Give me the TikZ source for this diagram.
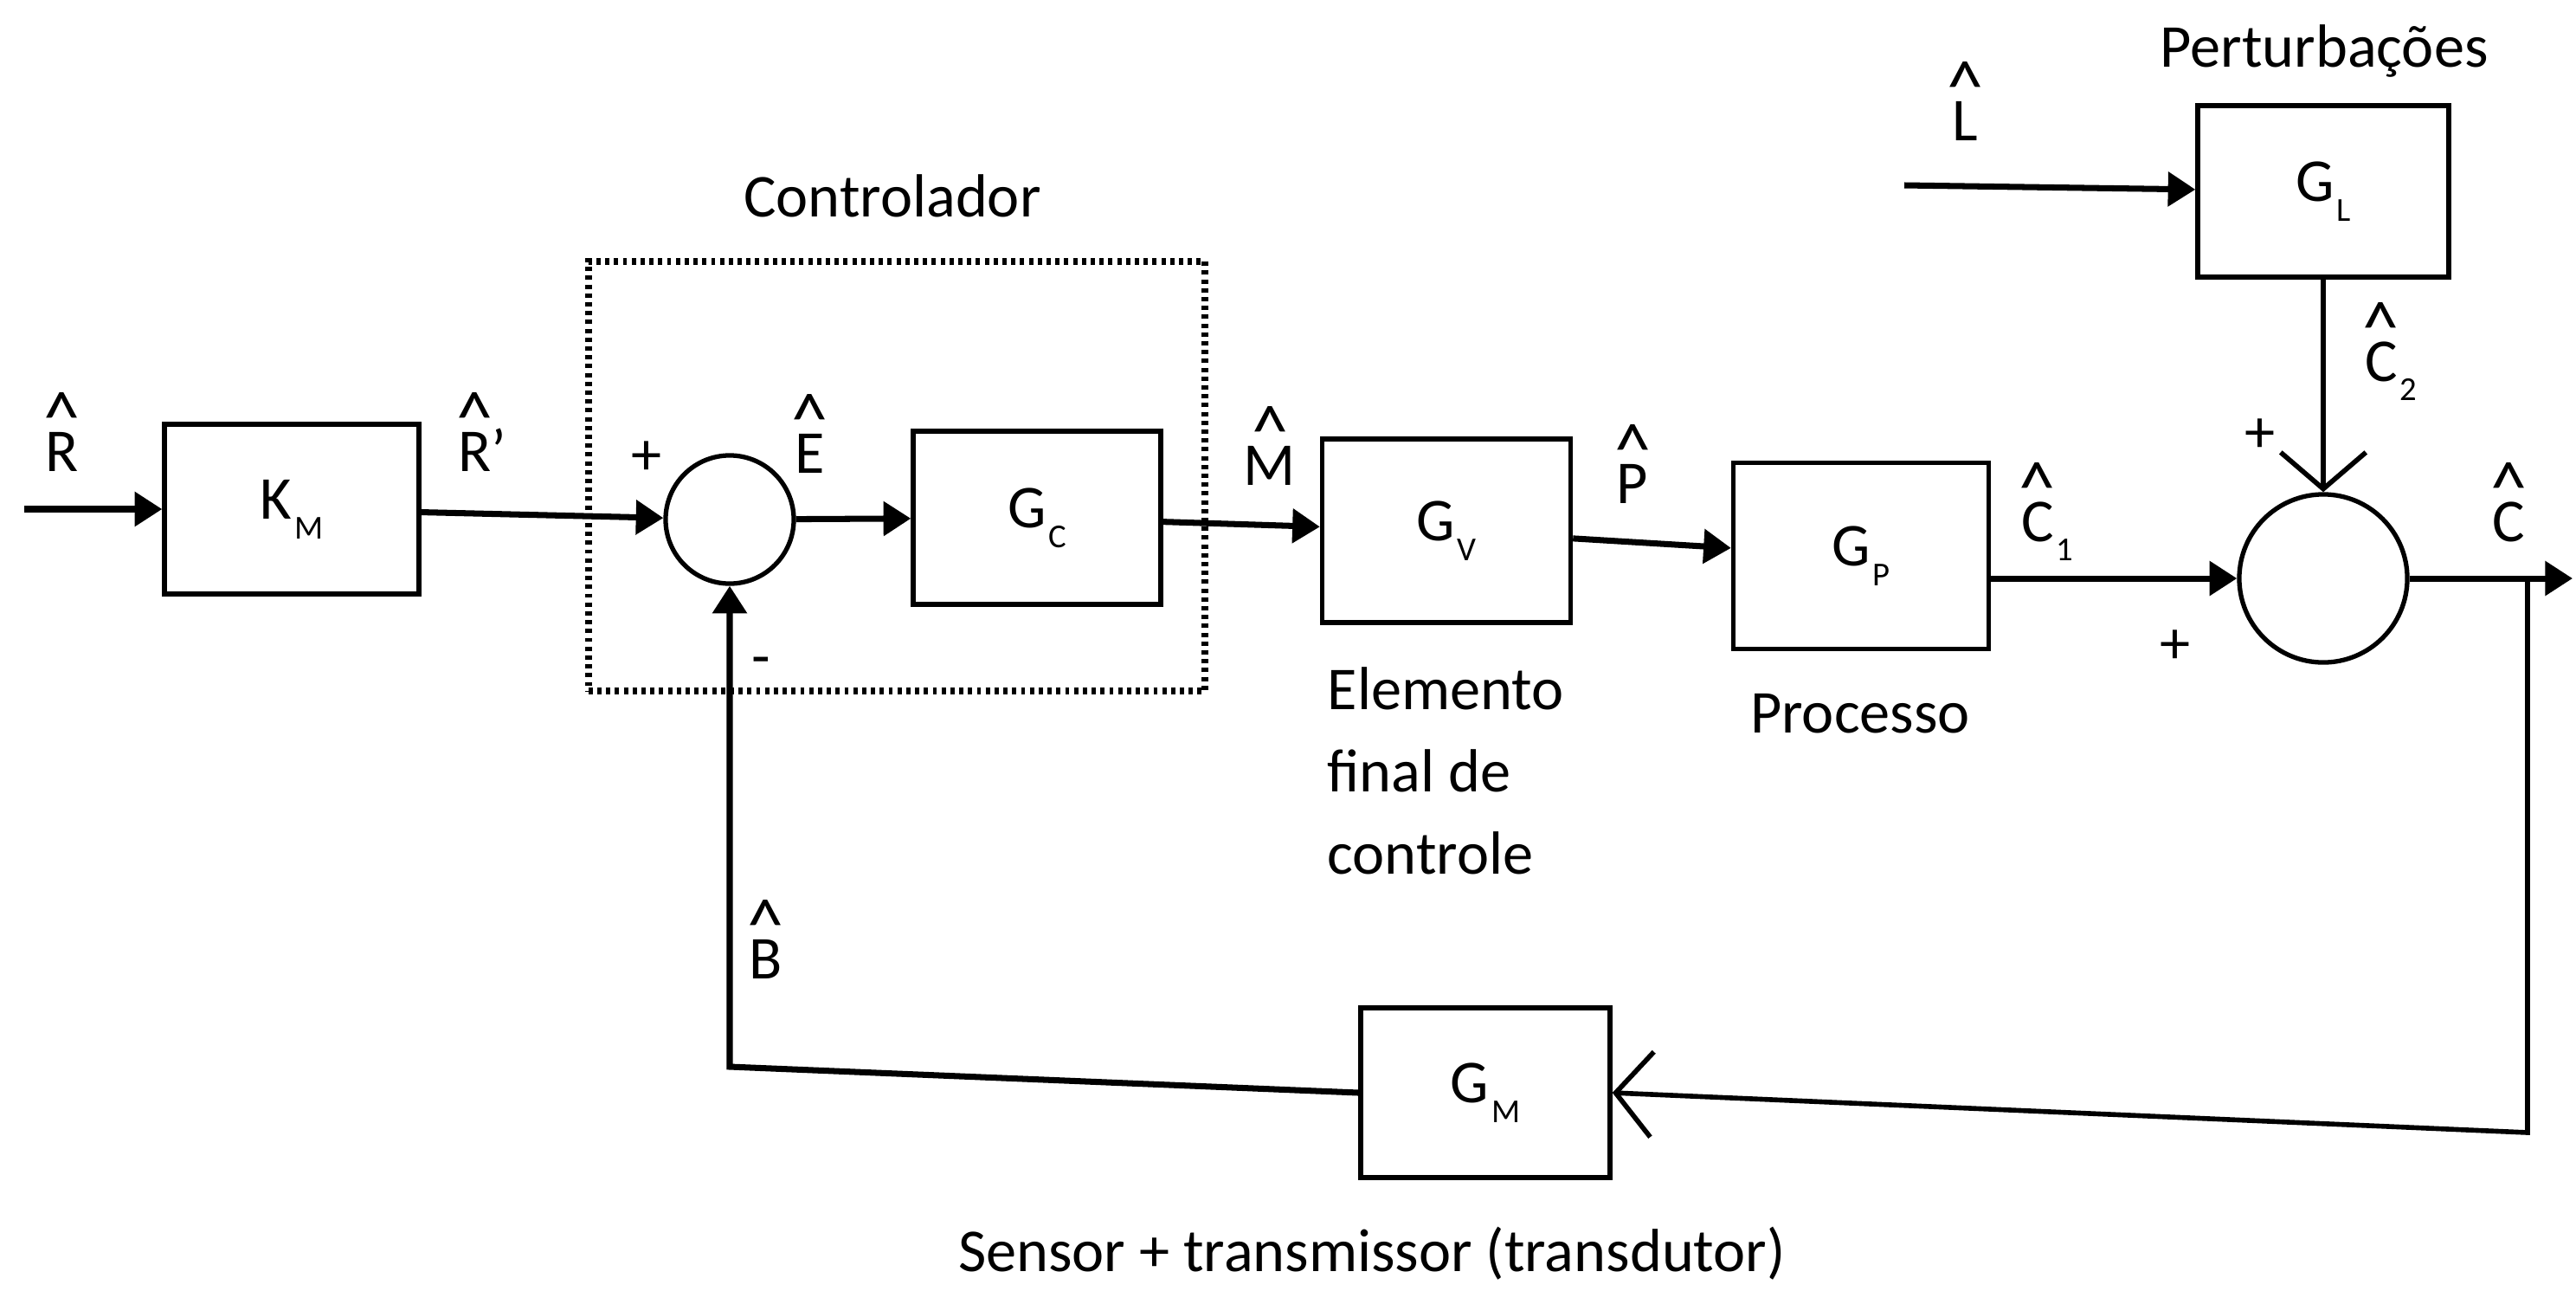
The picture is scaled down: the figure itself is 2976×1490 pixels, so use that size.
\documentclass[tikz,border=0pt]{standalone}
\usepackage{fontspec}
\setmainfont{Carlito}
\usetikzlibrary{arrows.meta}
\newcommand{\hv}[1]{\ooalign{#1\cr\hidewidth\raisebox{9.5pt}{\fontsize{24}{24}\selectfont\textasciicircum}\hidewidth\cr}}
\newcommand{\sbx}[1]{\kern0.8pt\raisebox{-6.5pt}{\fontsize{11}{11}\selectfont #1}}
\begin{document}
\begin{tikzpicture}[x=0.01cm,y=-0.01cm,
  blk/.style={draw, line width=1.5pt, minimum width=2.9cm, minimum height=1.96cm, inner sep=0pt, font=\fontsize{20}{22}\selectfont},
  sumc/.style={draw, circle, line width=1.5pt, minimum size=1.48cm, inner sep=0pt},
  ctrlbox/.style={draw, line width=2.2pt, dash pattern=on 1.4pt off 1.5pt, minimum width=7.12cm, minimum height=4.96cm, inner sep=0pt},
  conn/.style={line width=2pt, -{Triangle[length=9pt,width=11pt]}},
  barb/.style={line width=1.6pt, -{Straight Barb[length=12pt,width=28pt,line width=1.6pt]}},
  lbl/.style={font=\fontsize{20}{22}\selectfont, inner sep=0pt, anchor=base},
  txt/.style={font=\fontsize{20}{27}\selectfont, inner sep=0pt, anchor=base}]
\useasboundingbox (0,0) rectangle (2976,1490);
\fill[white] (0,0) rectangle (2976,1490);

% blocks
\node[blk, minimum width=2.94cm, minimum height=1.96cm] (km) at (337,588) {K\sbx{M}};
\node[sumc] (s1) at (843,600) {};
\node[blk, minimum width=2.86cm, minimum height=2.00cm] (gc) at (1198,598) {G\sbx{C}};
\node[blk, minimum width=2.87cm, minimum height=2.12cm] (gv) at (1671,613) {G\sbx{V}};
\node[blk, minimum width=2.95cm, minimum height=2.15cm] (gp) at (2150,642) {G\sbx{P}};
\node[sumc, minimum size=1.94cm] (s2) at (2684,668) {};
\node[blk, minimum width=2.90cm, minimum height=1.98cm] (gl) at (2684,221) {G\sbx{L}};
\node[blk, minimum width=2.88cm, minimum height=1.96cm] (gm) at (1716,1262) {G\sbx{M}};
\node[ctrlbox] (ctrl) at (1036,550) {};

% free ends
\coordinate (in) at (28,588);
\coordinate (lin) at (2200,214);
\coordinate (jn) at (2920,668);
\coordinate (out) at (2972,668);
\coordinate (fr) at (2920,1308);
\coordinate (fl) at (843,1232);

% connectors
\draw[conn] (in) -- (km);
\draw[conn] (km) -- (s1);
\draw[conn] (s1) -- (gc);
\draw[conn] (gc) -- (gv);
\draw[conn] (gv) -- (gp);
\draw[conn] (gp.east |- s2.west) -- (s2.west);
\draw[conn] (s2.east) -- (out);
\draw[conn] (lin) -- (gl);
\draw[barb] (gl) -- (s2);
\draw[barb] (jn) -- (fr) -- (gm.east);
\draw[conn] (gm.west) -- (fl) -- (s1.south);

% signal labels
\node[lbl] (rh) at (72,544) {\hv{R}};
\node[lbl] (rph) at (557,544) {\hv{R}’};
\node[lbl] (eh) at (936,546) {\hv{E}};
\node[lbl] (mh) at (1467,560) {\hv{M}};
\node[lbl] (ph) at (1886,581) {\hv{P}};
\node[lbl] (c1h) at (2365,625) {\hv{C}\sbx{1}};
\node[lbl] (ch) at (2898,625) {\hv{C}};
\node[lbl] (lh) at (2270,162) {\hv{L}};
\node[lbl] (c2h) at (2762,440) {\hv{C}\sbx{2}};
\node[lbl] (bh) at (885,1130) {\hv{B}};

% signs
\node[txt, anchor=center] (p1) at (747,529) {+};
\node[txt, anchor=center] (m1) at (879,770) {-};
\node[txt, anchor=center] (p2) at (2611,503) {+};
\node[txt, anchor=center] (p3) at (2513,747) {+};

% texts
\node[txt] (tctrl) at (1031,250) {Controlador};
\node[txt] (tpert) at (2685,77) {Perturbações};
\node[txt, align=left, anchor=north west] (telem) at (1533,770) {Elemento\\final de\\controle};
\node[txt] (tproc) at (2149,846) {Processo};
\node[txt] (tsens) at (1585,1468) {Sensor + transmissor (transdutor)};
\end{tikzpicture}
\end{document}
